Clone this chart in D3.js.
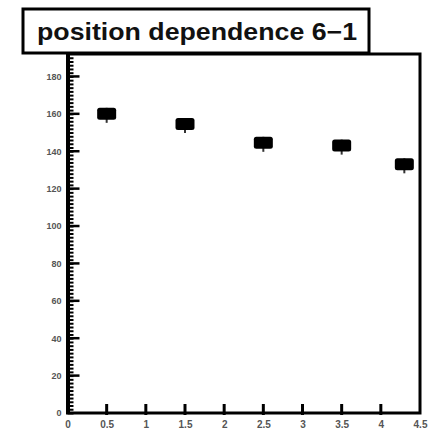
<!DOCTYPE html>
<html>
<head>
<meta charset="utf-8">
<script src="https://cdn.jsdelivr.net/npm/d3@7"></script>
<style>
  body { margin: 0; background: #fff; }
  svg { display: block; }
</style>
</head>
<body>
<svg></svg>
<script>
// data
var titleText = "position dependence 6\u22121";
var positions = [0.5, 1.5, 2.5, 3.5, 4.3];
var values = [160, 154.5, 144.5, 143, 133];
var xTicks = [0, 0.5, 1, 1.5, 2, 2.5, 3, 3.5, 4, 4.5];
var yTicks = [0, 20, 40, 60, 80, 100, 120, 140, 160, 180];

var W = 434, H = 435;
var frame = { left: 67.5, right: 420, top: 54, bottom: 413 };

var svg = d3.select("svg")
    .attr("width", W)
    .attr("height", H);

var xScale = d3.scaleLinear()
    .domain([0, 4.5])
    .range([frame.left, frame.right]);

var yScale = d3.scaleLinear()
    .domain([0, 192])
    .range([frame.bottom, frame.top]);

// frame
svg.append("rect")
    .attr("x", frame.left)
    .attr("y", frame.top)
    .attr("width", frame.right - frame.left)
    .attr("height", frame.bottom - frame.top)
    .attr("fill", "none")
    .attr("stroke", "#000")
    .attr("stroke-width", 3);
// thicker left axis line
svg.append("line")
    .attr("x1", frame.left + 1)
    .attr("x2", frame.left + 1)
    .attr("y1", frame.top)
    .attr("y2", frame.bottom)
    .attr("stroke", "#000")
    .attr("stroke-width", 3);

// y axis: minor ticks pointing inward
var yMinor = d3.range(0, 192, 2);
var yAxisMinor = d3.axisRight(yScale)
    .tickValues(yMinor)
    .tickSize(6)
    .tickFormat("");
svg.append("g")
    .attr("transform", "translate(" + frame.left + ",0)")
    .call(yAxisMinor)
    .call(function(g) {
        g.select(".domain").remove();
        g.selectAll("line").attr("stroke", "#000").attr("stroke-width", 2);
    });

var yAxis = d3.axisLeft(yScale)
    .tickValues(yTicks)
    .tickSize(0)
    .tickPadding(6);
svg.append("g")
    .attr("transform", "translate(" + frame.left + ",0)")
    .call(yAxis)
    .call(function(g) {
        g.select(".domain").remove();
        g.selectAll("text")
            .attr("font-family", "Liberation Sans, Arial, sans-serif")
            .attr("font-size", 9)
            .attr("font-weight", "bold")
            .attr("fill", "#555");
    });
svg.append("g")
    .selectAll("line")
    .data(yTicks.filter(function(d) { return d > 0; }))
    .join("line")
    .attr("x1", frame.left)
    .attr("x2", frame.left + 12)
    .attr("y1", function(d) { return yScale(d); })
    .attr("y2", function(d) { return yScale(d); })
    .attr("stroke", "#000")
    .attr("stroke-width", 2.5);

// x axis ticks at every 0.5
svg.append("g")
    .selectAll("line")
    .data(xTicks.filter(function(d) { return d > 0 && d < 4.5; }))
    .join("line")
    .attr("x1", function(d) { return xScale(d); })
    .attr("x2", function(d) { return xScale(d); })
    .attr("y1", frame.bottom - 9)
    .attr("y2", frame.bottom + 2)
    .attr("stroke", "#000")
    .attr("stroke-width", 3);

var xAxis = d3.axisBottom(xScale)
    .tickValues(xTicks)
    .tickSize(0)
    .tickPadding(8)
    .tickFormat(function(d) { return d; });
svg.append("g")
    .attr("transform", "translate(0," + frame.bottom + ")")
    .call(xAxis)
    .call(function(g) {
        g.select(".domain").remove();
        g.selectAll("text")
            .attr("font-family", "Liberation Sans, Arial, sans-serif")
            .attr("font-size", 10)
            .attr("font-weight", "bold")
            .attr("fill", "#555");
    });

// markers
var pts = positions.map(function(p, i) { return [p, values[i]]; });
svg.append("g")
    .selectAll("line")
    .data(pts)
    .join("line")
    .attr("x1", function(d) { return xScale(d[0]); })
    .attr("x2", function(d) { return xScale(d[0]); })
    .attr("y1", function(d) { return yScale(d[1]) - 6; })
    .attr("y2", function(d) { return yScale(d[1]) + 9; })
    .attr("stroke", "#333")
    .attr("stroke-width", 2);
svg.append("g")
    .selectAll("rect")
    .data(pts)
    .join("rect")
    .attr("x", function(d) { return xScale(d[0]) - 9.5; })
    .attr("y", function(d) { return yScale(d[1]) - 6; })
    .attr("width", 19)
    .attr("height", 12)
    .attr("rx", 2.5)
    .attr("fill", "#000");

// title box
var title = svg.append("g");
title.append("rect")
    .attr("x", 23)
    .attr("y", 9)
    .attr("width", 346)
    .attr("height", 44)
    .attr("fill", "#fff")
    .attr("stroke", "#000")
    .attr("stroke-width", 3);
title.append("text")
    .attr("x", 37)
    .attr("y", 40)
    .attr("textLength", 320)
    .attr("lengthAdjust", "spacingAndGlyphs")
    .attr("font-family", "Liberation Sans, Arial, sans-serif")
    .attr("font-weight", "bold")
    .attr("font-size", 24)
    .attr("fill", "#111")
    .text(titleText);
</script>
</body>
</html>
